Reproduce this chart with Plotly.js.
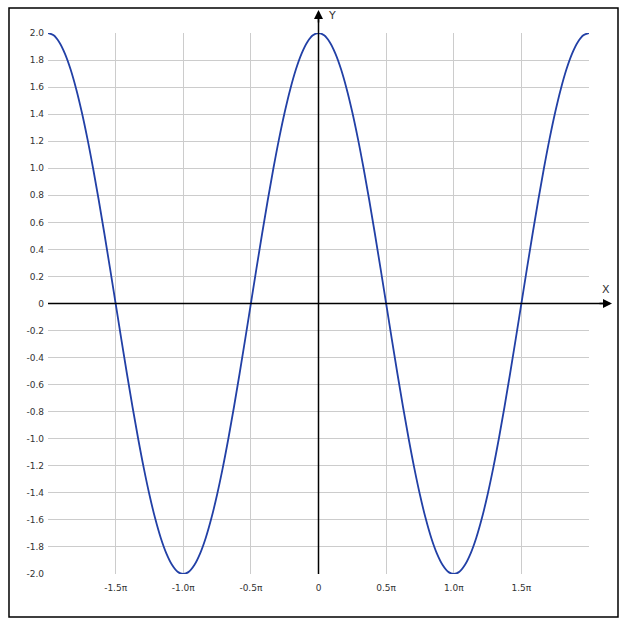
<!DOCTYPE html>
<html><head><meta charset="utf-8">
<script src="https://cdn.plot.ly/plotly-3.0.1.min.js"></script>
<style>html,body{margin:0;padding:0;background:#fff;}#chart{width:632px;height:626px;}</style>
</head><body><div id="chart"></div>
<script>
// x in multiples of pi
const xPi = [-2,-1.9583,-1.9167,-1.875,-1.8333,-1.7917,-1.75,-1.7083,-1.6667,-1.625,-1.5833,-1.5417,
  -1.5,-1.4583,-1.4167,-1.375,-1.3333,-1.2917,-1.25,-1.2083,-1.1667,-1.125,-1.0833,-1.0417,
  -1,-0.9583,-0.9167,-0.875,-0.8333,-0.7917,-0.75,-0.7083,-0.6667,-0.625,-0.5833,-0.5417,
  -0.5,-0.4583,-0.4167,-0.375,-0.3333,-0.2917,-0.25,-0.2083,-0.1667,-0.125,-0.0833,-0.0417,
  0,0.0417,0.0833,0.125,0.1667,0.2083,0.25,0.2917,0.3333,0.375,0.4167,0.4583,
  0.5,0.5417,0.5833,0.625,0.6667,0.7083,0.75,0.7917,0.8333,0.875,0.9167,0.9583,
  1,1.0417,1.0833,1.125,1.1667,1.2083,1.25,1.2917,1.3333,1.375,1.4167,1.4583,
  1.5,1.5417,1.5833,1.625,1.6667,1.7083,1.75,1.7917,1.8333,1.875,1.9167,1.9583,2];
const yVals = [
  2,1.9829,1.9319,1.8478,1.7321,1.5867,1.4142,1.2175,1,0.7654,0.5176,0.2611,
  0,-0.2611,-0.5176,-0.7654,-1,-1.2175,-1.4142,-1.5867,-1.7321,-1.8478,-1.9319,-1.9829,
  -2,-1.9829,-1.9319,-1.8478,-1.7321,-1.5867,-1.4142,-1.2175,-1,-0.7654,-0.5176,-0.2611,
  0,0.2611,0.5176,0.7654,1,1.2175,1.4142,1.5867,1.7321,1.8478,1.9319,1.9829,
  2,1.9829,1.9319,1.8478,1.7321,1.5867,1.4142,1.2175,1,0.7654,0.5176,0.2611,
  0,-0.2611,-0.5176,-0.7654,-1,-1.2175,-1.4142,-1.5867,-1.7321,-1.8478,-1.9319,-1.9829,
  -2,-1.9829,-1.9319,-1.8478,-1.7321,-1.5867,-1.4142,-1.2175,-1,-0.7654,-0.5176,-0.2611,
  0,0.2611,0.5176,0.7654,1,1.2175,1.4142,1.5867,1.7321,1.8478,1.9319,1.9829,
  2];
const xTickVals = [-1.5,-1,-0.5,0,0.5,1,1.5];
const xTickText = ["-1.5π","-1.0π","-0.5π","0","0.5π","1.0π","1.5π"];
const yTickVals = [2,1.8,1.6,1.4,1.2,1,0.8,0.6,0.4,0.2,0,-0.2,-0.4,-0.6,-0.8,-1,-1.2,-1.4,-1.6,-1.8,-2];
const yTickText = ["2.0","1.8","1.6","1.4","1.2","1.0","0.8","0.6","0.4","0.2","0","-0.2","-0.4","-0.6","-0.8","-1.0","-1.2","-1.4","-1.6","-1.8","-2.0"];

const tickFont = {family:"DejaVu Sans, Verdana, sans-serif", size:9, color:"#333"};
const data = [{
  x: xPi, y: yVals, type:"scatter", mode:"lines",
  line:{color:"#2240a6", width:1.8, shape:"spline", smoothing:1},
  cliponaxis:false, hoverinfo:"skip"
}];
const layout = {
  width:632, height:626,
  margin:{l:48, r:43, t:33, b:52},
  paper_bgcolor:"#fff", plot_bgcolor:"#fff",
  showlegend:false,
  xaxis:{range:[-2,2], tickvals:xTickVals, ticktext:xTickText, showgrid:true, gridcolor:"#cccccc", gridwidth:1,
    zeroline:false, showline:false, ticks:"", tickfont:tickFont, ticklabelstandoff:7, fixedrange:true},
  yaxis:{range:[-2,2], tickvals:yTickVals, ticktext:yTickText, showgrid:true, gridcolor:"#cccccc", gridwidth:1,
    zeroline:false, showline:false, ticks:"", tickfont:tickFont, ticklabelstandoff:3, fixedrange:true},
  shapes:[
    {type:"rect", xref:"paper", yref:"paper", x0:-0.0721, x1:1.0536, y0:-0.0795, y1:1.0462,
     line:{color:"#000", width:1.5}, fillcolor:"rgba(0,0,0,0)", layer:"below"},
    {type:"line", xref:"x", yref:"paper", x0:0, x1:0, y0:0, y1:1.035, line:{color:"#000", width:1.5}},
    {type:"line", xref:"paper", yref:"y", x0:0, x1:1.035, y0:0, y1:0, line:{color:"#000", width:1.5}}
  ],
  annotations:[
    {xref:"x", yref:"paper", x:0, y:1.0425, ax:0, ay:14, text:"", showarrow:true, arrowhead:2, arrowsize:1.2, arrowwidth:1.5, arrowcolor:"#000"},
    {xref:"paper", yref:"y", x:1.0425, y:0, ax:-14, ay:0, text:"", showarrow:true, arrowhead:2, arrowsize:1.2, arrowwidth:1.5, arrowcolor:"#000"},
    {xref:"x", yref:"paper", x:0, y:1.0315, xanchor:"left", yanchor:"middle", xshift:7, text:"Y", showarrow:false,
     font:{family:"DejaVu Sans, Verdana, sans-serif", size:11, color:"#333"}},
    {xref:"paper", yref:"y", x:1.0425, y:0, xanchor:"center", yanchor:"bottom", yshift:6, xshift:-6, text:"X", showarrow:false,
     font:{family:"DejaVu Sans, Verdana, sans-serif", size:11, color:"#333"}}
  ]
};
Plotly.newPlot("chart", data, layout, {displayModeBar:false, staticPlot:true});
</script></body></html>
